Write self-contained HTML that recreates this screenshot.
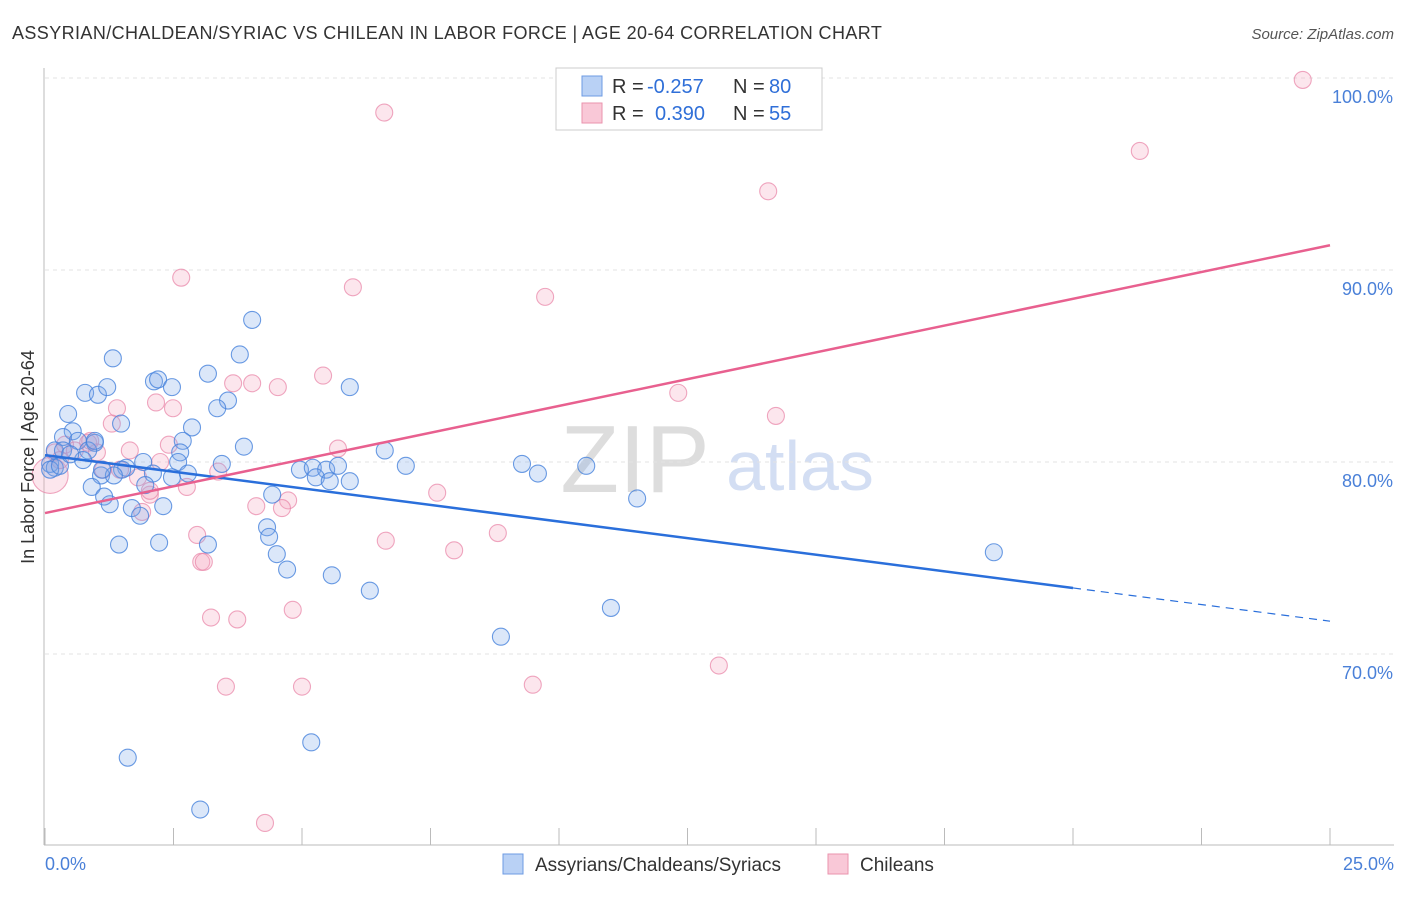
<!DOCTYPE html>
<html><head><meta charset="utf-8"><style>
body{margin:0;background:#fff;font-family:"Liberation Sans",sans-serif}
svg text{font-family:"Liberation Sans",sans-serif}
</style></head><body>
<svg id="chart" width="1406" height="892">
<text x="12" y="39" font-size="18" fill="#333" letter-spacing="0.4">ASSYRIAN/CHALDEAN/SYRIAC VS CHILEAN IN LABOR FORCE | AGE 20-64 CORRELATION CHART</text>
<text x="1394" y="39" font-size="15" fill="#555" font-style="italic" text-anchor="end">Source: ZipAtlas.com</text>
<text x="635" y="492" font-size="96" fill="#ddd" font-family="Liberation Serif" text-anchor="middle">ZIP</text>
<text x="800" y="490" font-size="70" fill="#d3def3" text-anchor="middle">atlas</text>
<g id="grid"></g>
<g id="axes"></g>
<g id="pts"></g>
<g id="lines"></g>
<text transform="translate(34,457) rotate(-90)" font-size="18" fill="#333" text-anchor="middle">In Labor Force | Age 20-64</text>
<text x="45" y="870" font-size="18" fill="#4a80d8">0.0%</text>
<text x="1394" y="870" font-size="18" fill="#4a80d8" text-anchor="end">25.0%</text>
<g>
<rect x="556" y="68" width="266" height="62" fill="#fff" stroke="#ccc"/>
<rect x="582" y="76" width="20" height="20" fill="#b9d1f5" stroke="#6d9be3"/>
<rect x="582" y="103" width="20" height="20" fill="#f9c8d7" stroke="#ea93ae"/>
<text x="612" y="93" font-size="20" fill="#333">R =</text>
<text x="647" y="93" font-size="20" fill="#2f6fd8">-0.257</text>
<text x="733" y="93" font-size="20" fill="#333">N =</text>
<text x="769" y="93" font-size="20" fill="#2f6fd8">80</text>
<text x="612" y="120" font-size="20" fill="#333">R =</text>
<text x="655" y="120" font-size="20" fill="#2f6fd8">0.390</text>
<text x="733" y="120" font-size="20" fill="#333">N =</text>
<text x="769" y="120" font-size="20" fill="#2f6fd8">55</text>
</g>
<g>
<rect x="503" y="854" width="20" height="20" fill="#b9d1f5" stroke="#6d9be3"/>
<text x="535" y="871" font-size="19" fill="#333">Assyrians/Chaldeans/Syriacs</text>
<rect x="828" y="854" width="20" height="20" fill="#f9c8d7" stroke="#ea93ae"/>
<text x="860" y="871" font-size="19" fill="#333">Chileans</text>
</g>
</svg>
<script>
const yTicks=[70,80,90,100];
const yTickLabels=["70.0%","80.0%","90.0%","100.0%"];
const xTicks=[0,2.5,5,7.5,10,12.5,15,17.5,20,22.5,25];
const blueX=[4.03,1.32,3.79,2.12,2.20,2.47,3.17,0.78,1.03,1.21,5.93,3.56,3.35,0.45,1.48,2.86,0.54,2.68,0.35,0.64,0.97,3.87,6.61,0.19,0.35,0.84,2.63,0.74,1.91,2.59,3.44,0.10,0.19,1.58,1.50,2.10,2.47,2.78,4.96,5.21,5.47,5.70,5.27,5.54,5.93,7.02,9.28,9.59,10.53,1.09,1.34,0.91,1.95,1.15,1.26,1.69,1.85,2.30,4.42,11.52,4.32,4.36,1.44,2.22,3.17,4.51,4.71,5.58,6.32,11.01,8.87,18.46,5.18,1.61,3.02,0.10,0.29,0.49,0.97,1.11];
const blueY=[87.4,85.4,85.6,84.2,84.3,83.9,84.6,83.6,83.5,83.9,83.9,83.2,82.8,82.5,82.0,81.8,81.6,81.1,81.3,81.1,81.0,80.8,80.6,80.6,80.6,80.6,80.5,80.1,80.0,80.0,79.9,79.9,79.7,79.7,79.6,79.4,79.2,79.4,79.6,79.7,79.6,79.8,79.2,79.0,79.0,79.8,79.9,79.4,79.8,79.3,79.3,78.7,78.8,78.2,77.8,77.6,77.2,77.7,78.3,78.1,76.6,76.1,75.7,75.8,75.7,75.2,74.4,74.1,73.3,72.4,70.9,75.3,65.4,64.6,61.9,79.6,79.8,80.4,81.1,79.6];
const pinkX=[24.47,6.60,21.30,14.07,2.65,5.99,9.73,5.41,3.66,4.03,4.53,2.16,1.40,2.49,12.32,14.22,1.30,2.41,1.65,0.84,1.01,0.39,0.19,5.70,2.24,3.37,1.13,1.81,2.76,2.04,4.73,4.11,4.61,7.63,1.89,2.96,6.63,7.96,8.81,3.04,3.09,4.82,3.23,3.74,13.11,3.52,5.00,9.49,4.28,0.10,0.29,0.58,0.88,1.46,2.04];
const pinkY=[99.9,98.2,96.2,94.1,89.6,89.1,88.6,84.5,84.1,84.1,83.9,83.1,82.8,82.8,83.6,82.4,82.0,80.9,80.6,81.0,80.5,80.9,80.5,80.7,80.0,79.5,79.6,79.2,78.7,78.3,78.0,77.7,77.6,78.4,77.4,76.2,75.9,75.4,76.3,74.8,74.8,72.3,71.9,71.8,69.4,68.3,68.3,68.4,61.2,79.3,80.1,80.6,81.1,79.6,78.5];
const blueTrend=[80.36,-0.346];
const pinkTrend=[77.34,0.558];
const blueSolidEnd=20;
const NS="http://www.w3.org/2000/svg";
const X0=45,X1=1330,Ytop=78,YB=845;
function sx(v){return X0+(v/25)*(X1-X0);}
function sy(v){return Ytop+(100-v)*19.2;}
function mk(tag,attrs,parent){const e=document.createElementNS(NS,tag);for(const k in attrs)e.setAttribute(k,attrs[k]);parent.appendChild(e);return e;}
const grid=document.getElementById('grid'),axes=document.getElementById('axes'),pts=document.getElementById('pts'),lines=document.getElementById('lines');
yTicks.forEach((t,i)=>{
 const l=mk('line',{x1:45,x2:1394,y1:sy(t),y2:sy(t),stroke:'#e3e3e3','stroke-dasharray':'4,4'},grid);
 
 
 const tx=mk('text',{x:1393,y:sy(t)+25,'font-size':18,fill:'#4a80d8','text-anchor':'end'},grid);
 tx.textContent=yTickLabels[i];
 
 
});
const ya=mk('line',{x1:44,x2:44,y1:68,y2:845,stroke:'#bbb'},axes);


const xa=mk('line',{x1:44,x2:1394,y1:845,y2:845,stroke:'#bbb'},axes);


xTicks.forEach(t=>{
 const l=mk('line',{x1:sx(t),x2:sx(t),y1:828,y2:845,stroke:'#bbb'},axes);
 
 
});
function drawPts(xs,ys,fill,stroke,name){
 xs.forEach((x,i)=>{
  const r=(x<0.15&&name==='pink-point'&&ys[i]<79.5)?18:8.5;
  const c=mk('circle',{cx:sx(x),cy:sy(ys[i]),r:r,fill:fill,stroke:stroke,'stroke-width':1.1},pts);
  
  
 });
}
drawPts(pinkX,pinkY,'rgba(244,165,192,0.28)','rgba(232,130,165,0.7)','pink-point');
drawPts(blueX,blueY,'rgba(125,168,235,0.28)','rgba(70,130,220,0.8)','blue-point');
function tl(tr,a,b,color,dash,name){
 const l=mk('line',{x1:sx(a),y1:sy(tr[0]+tr[1]*a),x2:sx(b),y2:sy(tr[0]+tr[1]*b),stroke:color,'stroke-width':dash?1.2:2.5},lines);
 if(dash)l.setAttribute('stroke-dasharray','8,6');
 
 
}
tl(blueTrend,0,blueSolidEnd,'#2a6fdb',false,'blue-trendline');
tl(blueTrend,blueSolidEnd,25,'#2a6fdb',true,'blue-trendline-extension');
tl(pinkTrend,0,25,'#e8608f',false,'pink-trendline');
</script>
</body></html>
